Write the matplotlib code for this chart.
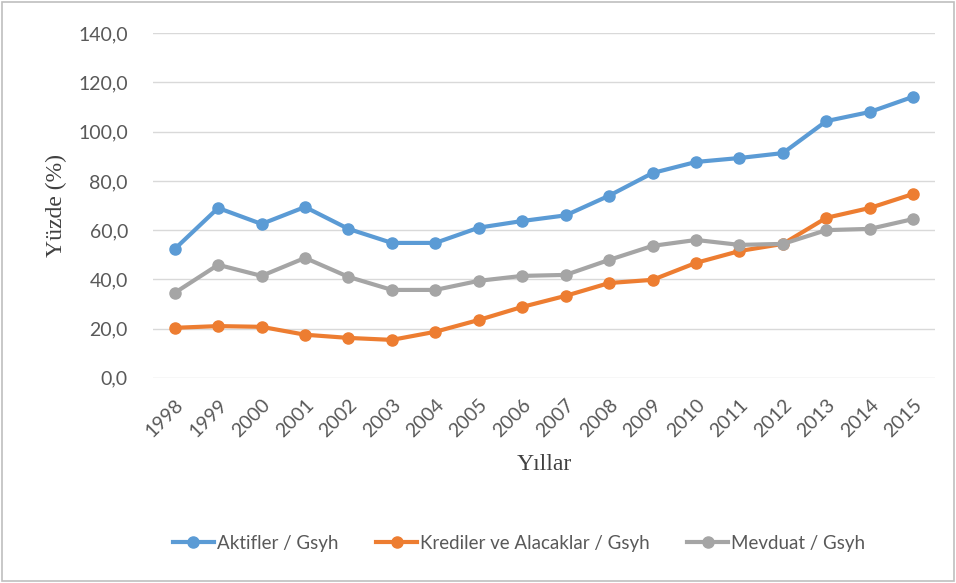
import numpy as np
import matplotlib.pyplot as plt
from matplotlib.patches import Rectangle

years = [str(y) for y in range(1998, 2016)]
aktifler = [52.3, 69.0, 62.5, 69.4, 60.5, 54.8, 54.8, 61.0, 63.7, 66.0,
            74.0, 83.2, 87.7, 89.3, 91.3, 104.3, 108.0, 114.2]
krediler = [20.3, 21.0, 20.7, 17.5, 16.2, 15.4, 18.7, 23.5, 28.8, 33.3,
            38.5, 39.8, 46.7, 51.5, 54.4, 65.0, 69.0, 74.7]
mevduat = [34.5, 45.9, 41.4, 48.7, 41.0, 35.7, 35.7, 39.4, 41.4, 41.8,
           47.9, 53.6, 56.0, 54.0, 54.4, 60.0, 60.5, 64.5]

plt.rcParams['font.family'] = ['Lato', 'DejaVu Sans']

fig = plt.figure(figsize=(9.56, 5.83), dpi=100)
ax = fig.add_axes([0.160, 0.352, 0.818, 0.591])

x = np.arange(len(years))
series = [(aktifler, '#5B9BD5', 'Aktifler / Gsyh'),
          (krediler, '#ED7D31', 'Krediler ve Alacaklar / Gsyh'),
          (mevduat, '#A5A5A5', 'Mevduat / Gsyh')]
for vals, col, lab in series:
    ax.plot(x, vals, color=col, lw=3, marker='o', ms=8, label=lab)

ax.set_xlim(-0.5, len(years) - 0.5)
ax.set_ylim(0, 140)
ax.set_yticks(np.arange(0, 141, 20))
ax.set_yticklabels([f'{v:.1f}'.replace('.', ',') for v in np.arange(0, 141, 20)])
ax.set_xticks(x)
ax.set_xticklabels(years, rotation=45, ha='right', rotation_mode='anchor')
ax.tick_params(length=0, labelsize=14, colors='#595959')
ax.tick_params(axis='y', pad=18)
ax.tick_params(axis='x', pad=13)
ax.grid(axis='y', color='#D9D9D9', lw=1)
ax.set_axisbelow(True)
for s in ax.spines.values():
    s.set_visible(False)

ax.set_ylabel('Yüzde (%)', family='Liberation Serif', fontsize=17, color='#404040', labelpad=8)
ax.set_xlabel('Yıllar', family='Liberation Serif', fontsize=17, color='#404040', labelpad=10)

ax.legend(loc='center', bbox_to_anchor=(0.543, 0.068), bbox_transform=fig.transFigure,
          ncol=3, frameon=False, fontsize=13.5, labelcolor='#595959',
          handlelength=2.2, columnspacing=2.0, handletextpad=0.15)

fig.patches.append(Rectangle((0.002, 0.004), 0.996, 0.992, transform=fig.transFigure,
                             fill=False, edgecolor='#BFBFBF', lw=1.2))

fig.savefig('out.png', dpi=100)
